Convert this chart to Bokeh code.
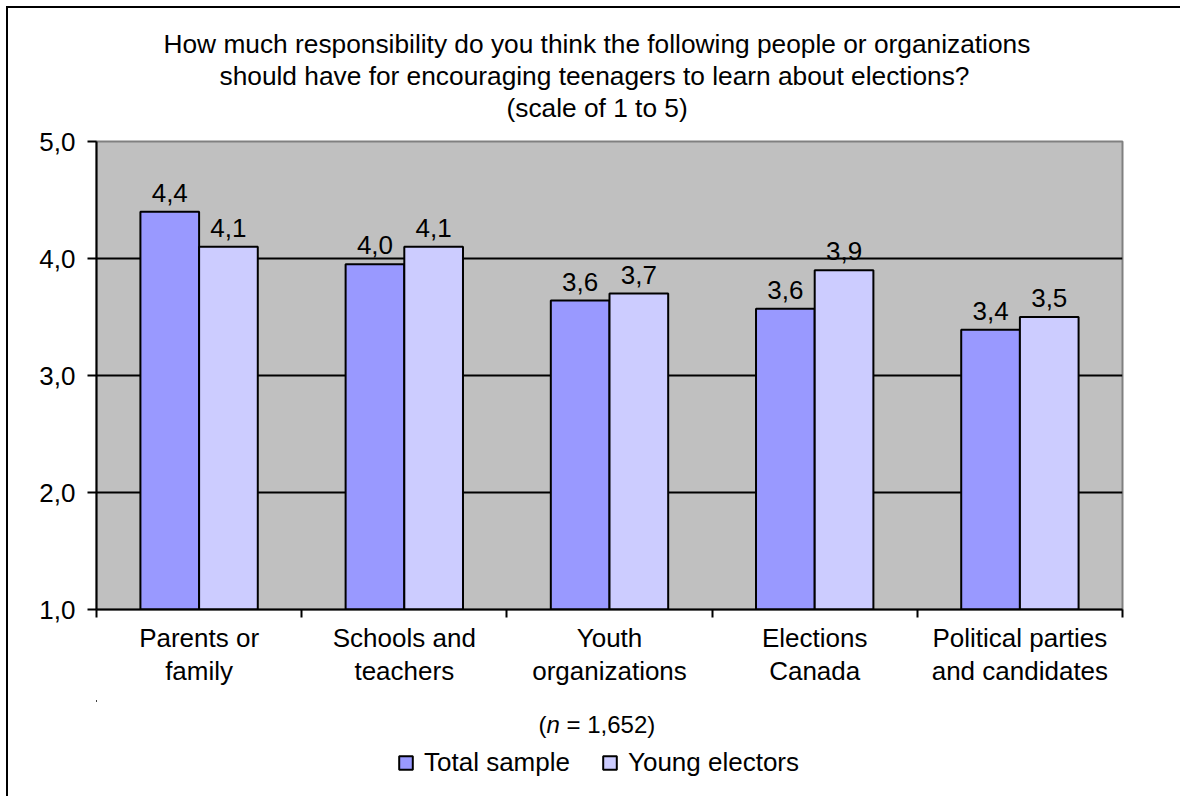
from bokeh.plotting import figure
from bokeh.layouts import column
from bokeh.models import (Range1d, LinearAxis, FixedTicker, CustomJSTickFormatter,
                          Legend, LegendItem, ColumnDataSource, Grid, Title, Label)
from bokeh.transform import dodge
from bokeh.core.properties import value
from bokeh.embed import file_html
from bokeh.resources import INLINE

# ---------------- data ----------------
categories = ["Parents or\nfamily", "Schools and\nteachers", "Youth\norganizations",
              "Elections\nCanada", "Political parties\nand candidates"]
total_sample = [4.40, 3.95, 3.64, 3.57, 3.39]
young_electors = [4.10, 4.10, 3.70, 3.90, 3.50]
series_names = ["Total sample", "Young electors"]
y_ticks = [1, 2, 3, 4, 5]
grid_ticks = [2, 3, 4]
title_lines = ["How much responsibility do you think the following people or organizations",
               "should have for encouraging teenagers to learn about elections?",
               "(scale of 1 to 5)"]
note_parts = ["(", "n", "= 1,652)"]

FONT = "Liberation Sans"
FS = "26px"
C_TOTAL = "#9999FF"
C_YOUNG = "#CCCCFF"


def fmt(v):
    return f"{v:.1f}".replace(".", ",")


n = len(categories)
centers = [i + 0.5 for i in range(n)]  # category slot centres on an index axis

src = ColumnDataSource(dict(
    x=centers,
    cat=categories,
    total=total_sample,
    young=young_electors,
    total_lbl=[fmt(v) for v in total_sample],
    young_lbl=[fmt(v) for v in young_electors],
))

# ---------------- main chart ----------------
p = figure(x_range=Range1d(0, n), y_range=Range1d(1, 5),
           width=1180, height=700,
           output_backend="svg", toolbar_location=None,
           x_axis_location=None, y_axis_location=None,
           min_border_left=96, min_border_right=58,
           min_border_top=141, min_border_bottom=91,
           background_fill_color="#C0C0C0", border_fill_color="white", border_fill_alpha=0,
           outline_line_color="#808080", outline_line_width=2)
p.title = None

for g in list(p.grid):
    g.visible = False

grid = Grid(dimension=1, ticker=FixedTicker(ticks=grid_ticks),
            grid_line_color="black", grid_line_width=2)
p.add_layout(grid)

yaxis = LinearAxis(ticker=FixedTicker(ticks=y_ticks),
                   formatter=CustomJSTickFormatter(code="return tick.toFixed(1).replace('.', ',');"),
                   major_tick_out=9, major_tick_in=0, minor_tick_out=0, minor_tick_in=0,
                   axis_line_width=2, axis_line_color="black",
                   major_tick_line_width=2, major_tick_line_color="black",
                   major_label_text_font=FONT, major_label_text_font_size=FS,
                   major_label_text_color="black", major_label_standoff=12)
p.add_layout(yaxis, "left")

xaxis = LinearAxis(ticker=FixedTicker(ticks=centers, minor_ticks=list(range(n + 1))),
                   major_label_overrides={c: lab for c, lab in zip(centers, categories)},
                   major_tick_out=0, major_tick_in=0,
                   minor_tick_out=8, minor_tick_in=0,
                   minor_tick_line_width=2, minor_tick_line_color="black",
                   axis_line_width=2, axis_line_color="black",
                   major_label_text_font=FONT, major_label_text_font_size=FS,
                   major_label_text_color="black", major_label_text_line_height=1.11,
                   major_label_standoff=5)
p.add_layout(xaxis, "below")

p.vbar(x=dodge("x", -0.143), top="total", bottom=1, width=0.286,
       source=src, fill_color=C_TOTAL, line_color="black", line_width=2)
p.vbar(x=dodge("x", 0.143), top="young", bottom=1, width=0.286,
       source=src, fill_color=C_YOUNG, line_color="black", line_width=2)

for col, off in (("total", -0.143), ("young", 0.143)):
    p.text(x=dodge("x", off), y=col, text=col + "_lbl", source=src,
           text_align="center", text_baseline="alphabetic", y_offset=-19,
           text_font=value(FONT), text_font_size=FS, text_color="black")

# title: spacer next to the frame, then lines 3, 2, 1 stacking upwards
p.add_layout(Title(text=" ", text_font_size="1px", standoff=16), "above")
title_offsets = [67, 123, 410]
for line, off in reversed(list(zip(title_lines, title_offsets))):
    p.add_layout(Title(text=line, align="left", offset=off, standoff=0,
                       vertical_align="bottom",
                       text_font=FONT, text_font_size="26.3px", text_font_style="normal",
                       text_color="black"), "above")

# ---------------- footer strip: sample note + legend ----------------
# (its frame is aligned with the main frame, so screen x is measured from x=96)
FOOT_H = 96
p2 = figure(x_range=Range1d(n + 1, n + 2), y_range=Range1d(0, 1),
            width=1180, height=FOOT_H,
            output_backend="svg", toolbar_location=None,
            x_axis_location=None, y_axis_location=None,
            min_border=0, outline_line_color=None,
            background_fill_alpha=0, border_fill_alpha=0)
p2.title = None
for g in list(p2.grid):
    g.visible = False

note_x = [442, 450, 470]
for part, nx in zip(note_parts, note_x):
    p2.add_layout(Label(x=nx, y=72, x_units="screen", y_units="screen",
                        text=part, text_align="left", text_baseline="alphabetic",
                        text_font=FONT, text_font_size="24px", text_color="black",
                        text_font_style="italic" if part == "n" else "normal"))

# legend swatches: the same series drawn here outside the strip's visible range
k_total = p2.vbar(x=dodge("x", -0.143), top="total", bottom=1, width=0.286, source=src,
                  fill_color=C_TOTAL, line_color="black", line_width=2)
k_young = p2.vbar(x=dodge("x", 0.143), top="young", bottom=1, width=0.286, source=src,
                  fill_color=C_YOUNG, line_color="black", line_width=2)

legend = Legend(items=[LegendItem(label=series_names[0], renderers=[k_total]),
                       LegendItem(label=series_names[1], renderers=[k_young])],
                orientation="horizontal", location=(301, 18),
                glyph_width=17, glyph_height=17, label_standoff=10, spacing=31,
                padding=0, margin=0, border_line_color=None, background_fill_alpha=0,
                label_text_font=FONT, label_text_font_size=FS, label_text_color="black")
p2.add_layout(legend)

page = column(p, p2, spacing=0,
              styles={"box-shadow": "inset 6px 6px 0 0 white, inset 8px 8px 0 0 black",
                      "background-color": "white"})

open("out.html", "w").write(file_html(page, INLINE))
